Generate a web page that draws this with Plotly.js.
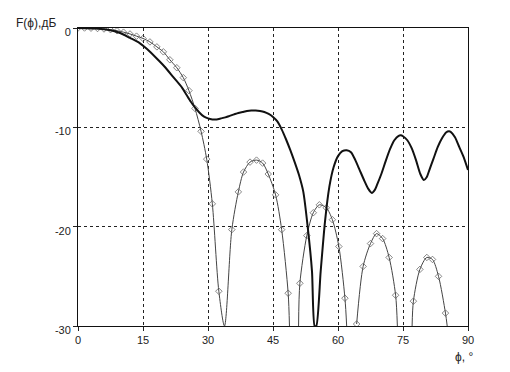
<!DOCTYPE html>
<html>
<head>
<meta charset="utf-8">
<script src="https://cdn.plot.ly/plotly-3.0.1.min.js"></script>
<style>html,body{margin:0;padding:0;background:#fff;}#chart{width:510px;height:372px;}</style>
</head>
<body>
<div id="chart"></div>
<script>
// Thick curve (no markers)
const phiA = [0,2,4,6,8,10,12,14,16,18,20,22,24,25,26,27,28,29,30,31,32,33,34,35,36,37,38,39,40,41,42,43,44,45,46,47,48,49,50,51,52,53,54,54.6,
  55.0,56,57,58,59,60,61,62,63,64,65,66,67,67.8,68.5,69,70,71,72,73,74,74.5,75,76,77,78,79,79.8,80.5,81,82,83,84,85,85.6,86,87,88,89,90];
const levelA = [0,-0.02,-0.06,-0.13,-0.27,-0.55,-1.0,-1.45,-2.15,-3.0,-3.9,-4.95,-6.0,-6.7,-7.4,-8.0,-8.5,-8.9,-9.1,-9.2,-9.2,-9.1,-9.0,-8.85,-8.7,-8.55,-8.45,-8.35,-8.3,-8.3,-8.35,-8.45,-8.65,-8.95,-9.4,-10.2,-11.2,-12.3,-13.5,-14.8,-16.5,-20.0,-24.5,-30,
  -30,-24.5,-19.5,-16.0,-14.0,-12.9,-12.4,-12.3,-12.5,-13.3,-14.3,-15.3,-16.2,-16.6,-16.3,-15.8,-14.7,-13.4,-12.2,-11.3,-10.85,-10.8,-10.9,-11.3,-12.1,-13.3,-14.7,-15.3,-15.0,-14.4,-13.2,-12.0,-11.1,-10.5,-10.4,-10.45,-11.0,-12.0,-13.0,-14.3];

// Thin curve with diamond markers (null = gap along the -30 floor)
const phiB = [0,1.5,3,4.5,6,7.5,9,10.5,12,13.5,15,16.6,18.2,19.7,21.2,22.8,24.3,25.6,27,28.4,29.7,31,32.5,33.8,
  35.5,37,38.2,39.7,41.2,42.6,43.9,45.6,47,48.5,48.8, 49.8,
  50.9,51.2,52.8,54.3,55.7,57.3,58.7,60.2,61.6,62.0, 63.0,
  64.3,65.8,67.5,68.9,70.3,71.8,73.3,73.7, 75.5,
  77.1,77.4,78.9,80.5,81.8,83.2,84.8,85.2];
const levelB = [0,0,-0.02,-0.05,-0.1,-0.17,-0.28,-0.42,-0.6,-0.82,-1.05,-1.4,-1.9,-2.4,-3.2,-4.0,-5.0,-6.3,-8.1,-10.4,-13.2,-17.7,-26.5,-30,
  -20.3,-16.5,-14.5,-13.5,-13.3,-13.6,-14.7,-16.8,-20.3,-26.7,-30, null,
  -30,-25.7,-20.9,-18.6,-17.8,-18.1,-19.3,-22.0,-27.2,-30, null,
  -29.8,-24.0,-21.7,-20.7,-21.2,-23.1,-26.9,-30, null,
  -30,-27.5,-24.3,-23.1,-23.3,-25.0,-28.7,-30];

const xTicks = [0,15,30,45,60,75,90];
const xTickText = ['0','15','30','45','60','75','90'];
const yTicks = [0,-10,-20,-30];
const yTickText = ['0','-10','-20','-30'];

const FLOOR = -30;
const markerSizes = levelB.map(v => (v === null || v <= FLOOR) ? 0 : 5);

const traces = [
  {
    x: phiB, y: levelB, type: 'scatter', mode: 'lines+markers',
    line: {color: '#444', width: 1, shape: 'spline', smoothing: 0.8},
    marker: {symbol: 'diamond-open', size: markerSizes, color: '#555', line: {width: 1}},
    connectgaps: false, hoverinfo: 'skip'
  },
  {
    x: phiA, y: levelA, type: 'scatter', mode: 'lines',
    line: {color: '#111', width: 2, shape: 'spline', smoothing: 0.6},
    hoverinfo: 'skip'
  }
];

const axisFont = {family: 'Liberation Sans, Arial, sans-serif', size: 11, color: '#222'};

const layout = {
  width: 510, height: 372,
  margin: {l: 78, r: 42, t: 28, b: 46, pad: 0},
  paper_bgcolor: '#fff', plot_bgcolor: '#fff',
  showlegend: false,
  font: axisFont,
  xaxis: {
    range: [0, 90], fixedrange: true,
    tickmode: 'array', tickvals: xTicks, ticktext: xTickText,
    ticks: 'outside', ticklen: 4, tickcolor: '#222', tickfont: axisFont,
    showline: true, linecolor: '#111', linewidth: 1, mirror: true,
    showgrid: true, gridcolor: '#222', griddash: 'dot', gridwidth: 1,
    zeroline: false
  },
  yaxis: {
    range: [-30, 0], fixedrange: true,
    tickmode: 'array', tickvals: yTicks, ticktext: yTickText,
    ticks: 'outside', ticklen: 4, tickcolor: '#222', tickfont: axisFont,
    ticklabelshift: 4,
    showline: true, linecolor: '#111', linewidth: 1, mirror: true,
    showgrid: true, gridcolor: '#222', griddash: 'dot', gridwidth: 1,
    zeroline: false
  },
  annotations: [
    {text: 'F(ϕ),дБ', xref: 'paper', yref: 'paper', x: -0.052, y: 1, xanchor: 'right', yanchor: 'middle',
     yshift: 5, showarrow: false, font: {family: 'Liberation Sans, Arial, sans-serif', size: 12, color: '#222'}},
    {text: 'ϕ, °', xref: 'paper', yref: 'paper', x: 0.99, y: 0, xanchor: 'center', yanchor: 'top',
     yshift: -22, showarrow: false, font: {family: 'Liberation Sans, Arial, sans-serif', size: 12, color: '#222'}}
  ]
};

Plotly.newPlot('chart', traces, layout, {staticPlot: true, displayModeBar: false});
</script>
</body>
</html>
